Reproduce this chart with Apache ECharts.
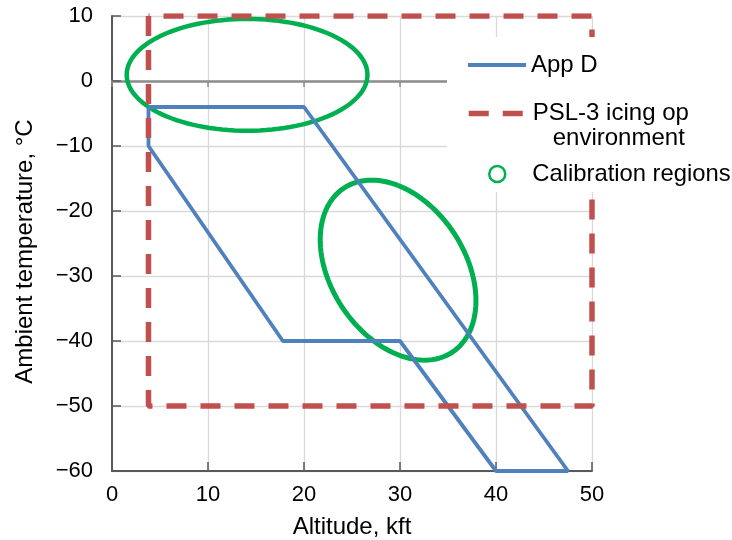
<!DOCTYPE html>
<html>
<head>
<meta charset="utf-8">
<script src="https://cdn.jsdelivr.net/npm/echarts@6/dist/echarts.min.js"></script>
<style>html,body{margin:0;padding:0;background:#fff}#c{width:732px;height:540px}</style>
</head>
<body>
<div id="c"></div>
<script>
// ---- data ----
var xTicks = [0, 10, 20, 30, 40, 50];
var yTicks = [-60, -50, -40, -30, -20, -10, 0, 10];
// App D envelope vertices (altitude kft, temperature °C)
var appDAlt  = [3.8, 20, 47.5, 40, 30, 17.8, 3.8, 3.8];
var appDTemp = [-4, -4, -60, -60, -40, -40, -10, -4];
// PSL-3 icing operating environment (rectangle)
var pslAlt  = [3.8, 3.8, 50, 50, 3.8];
var pslTemp = [10, -50, -50, 10, 10];
// Calibration regions: ellipse centre and two semi-axis vectors (kft, °C)
var calCentreAlt  = [14.07, 29.8];
var calCentreTemp = [0.95, -29.1];
var calAxisAAlt   = [12.54, 5.64];
var calAxisATemp  = [0, -12.63];
var calAxisBAlt   = [0, -5.83];
var calAxisBTemp  = [8.6, -5.68];

var names = ['App D', 'PSL-3 icing op\n   environment', 'Calibration regions'];

function pairs(a, b) { return a.map(function (v, i) { return [v, b[i]]; }); }
var calData = calCentreAlt.map(function (v, i) {
  return [v, calCentreTemp[i], calAxisAAlt[i], calAxisATemp[i], calAxisBAlt[i], calAxisBTemp[i]];
});
function minus(v) { return String(v).replace('-', '\u2212'); }

var FONT = 'Liberation Sans, Arial, sans-serif';
var BLUE = '#4F81BD', RED = '#C0504D', GREEN = '#00B050';
var chart = echarts.init(document.getElementById('c'));
chart.setOption({
  animation: false,
  backgroundColor: '#fff',
  textStyle: { fontFamily: FONT, color: '#000' },
  grid: { left: 112, right: 140, top: 16, bottom: 69, containLabel: false, outerBoundsMode: 'none' },
  xAxis: [{
    type: 'value', min: xTicks[0], max: xTicks[xTicks.length - 1], interval: 10,
    name: 'Altitude, kft', nameLocation: 'middle', nameGap: 44,
    nameTextStyle: { fontSize: 24, color: '#000', fontFamily: FONT },
    axisLine: { onZero: false, lineStyle: { color: '#595959', width: 2 } },
    axisTick: { inside: true, length: 9, lineStyle: { color: '#595959', width: 1.5 } },
    axisLabel: { fontSize: 22, color: '#000', margin: 13, fontFamily: FONT, formatter: minus },
    splitLine: { show: true, lineStyle: { color: '#d9d9d9', width: 1.3 } }
  }, {
    type: 'value', min: xTicks[0], max: xTicks[xTicks.length - 1], interval: 10,
    position: 'bottom',
    axisLine: { onZero: true, lineStyle: { color: '#8c8c8c', width: 2.5 } },
    axisTick: { inside: false, length: 6, lineStyle: { color: '#8c8c8c', width: 1.5 } },
    axisLabel: { show: false },
    splitLine: { show: false }
  }],
  yAxis: {
    type: 'value', min: yTicks[0], max: yTicks[yTicks.length - 1], interval: 10,
    name: 'Ambient temperature, \u00b0C', nameLocation: 'middle', nameGap: 75,
    nameTextStyle: { fontSize: 24, color: '#000', fontFamily: FONT, padding: [0, 16, 0, 0] },
    axisLine: { show: true, onZero: false, lineStyle: { color: '#595959', width: 2 } },
    axisTick: { show: true, inside: true, length: 9, lineStyle: { color: '#595959', width: 1.5 } },
    axisLabel: { fontSize: 22, color: '#000', margin: 19, fontFamily: FONT, formatter: minus },
    splitLine: { show: true, lineStyle: { color: '#d9d9d9', width: 1.3 } }
  },
  graphic: [{
    type: 'rect', z: 3, silent: true,
    shape: { x: 447, y: 37, width: 285, height: 155 },
    style: { fill: '#fff' }
  }],
  legend: [{
    data: [{ name: names[0], itemStyle: { opacity: 0 }, lineStyle: { color: BLUE, width: 4 } }],
    left: 466, top: 52, padding: 0,
    itemWidth: 58, itemHeight: 14,
    textStyle: { fontSize: 24, color: '#000', fontFamily: FONT, lineHeight: 26 }
  }, {
    data: [{ name: names[1], itemStyle: { opacity: 0 }, lineStyle: { color: RED, width: 5.5, type: [20, 14] } }],
    left: 466, top: 76, padding: 0,
    itemWidth: 56, itemHeight: 14,
    formatter: function (n) { return '\n' + n; },
    textStyle: { fontSize: 24, color: '#000', fontFamily: FONT, lineHeight: 25, padding: [0, 0, 0, 3] }
  }, {
    data: [{ name: names[2], icon: 'circle', itemStyle: { color: '#fff', borderColor: GREEN, borderWidth: 2.5 } }],
    left: 488, top: 161, padding: 0,
    itemWidth: 16, itemHeight: 16,
    textStyle: { fontSize: 23.8, color: '#000', fontFamily: FONT, lineHeight: 26, padding: [0, 0, 0, 22] }
  }],
  series: [{
    name: names[0], type: 'line', data: pairs(appDAlt, appDTemp),
    showSymbol: false, symbol: 'none', z: 2,
    lineStyle: { color: BLUE, width: 3.8 }, itemStyle: { color: BLUE }
  }, {
    name: names[1], type: 'line', data: pairs(pslAlt, pslTemp),
    showSymbol: false, symbol: 'none', z: 2,
    lineStyle: { color: RED, width: 5.5, type: [20, 14] }, itemStyle: { color: RED }
  }, {
    name: names[2], type: 'custom', data: calData, z: 2,
    encode: { x: 0, y: 1 },
    itemStyle: { color: GREEN },
    renderItem: function (params, api) {
      var cx = api.value(0), cy = api.value(1);
      var c = api.coord([cx, cy]);
      var pa = api.coord([cx + api.value(2), cy + api.value(3)]);
      var pb = api.coord([cx + api.value(4), cy + api.value(5)]);
      var ux = pa[0] - c[0], uy = pa[1] - c[1], vx = pb[0] - c[0], vy = pb[1] - c[1];
      var pts = [];
      for (var k = 0; k < 120; k++) {
        var t = k / 120 * Math.PI * 2;
        pts.push([c[0] + ux * Math.cos(t) + vx * Math.sin(t), c[1] + uy * Math.cos(t) + vy * Math.sin(t)]);
      }
      return {
        type: 'polygon', shape: { points: pts },
        style: { fill: 'none', stroke: GREEN, lineWidth: params.dataIndex === 0 ? 4.5 : 5 }
      };
    }
  }]
});
</script>
</body>
</html>
